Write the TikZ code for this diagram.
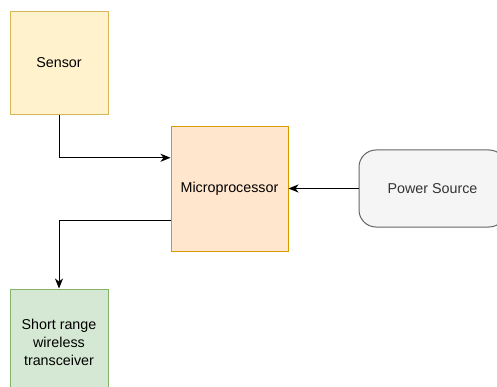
\documentclass[tikz,border=0pt]{standalone}
\usepackage{fontspec}
\setmainfont{Liberation Sans}
\usetikzlibrary{arrows.meta,calc}

\definecolor{sensorfill}{HTML}{FFF2CC}
\definecolor{sensorline}{HTML}{D6B656}
\definecolor{mcufill}{HTML}{FFE6CC}
\definecolor{mculine}{HTML}{D79B00}
\definecolor{powerfill}{HTML}{F5F5F5}
\definecolor{powerline}{HTML}{666666}
\definecolor{powertext}{HTML}{333333}
\definecolor{radiofill}{HTML}{D5E8D4}
\definecolor{radioline}{HTML}{82B366}

\begin{document}
\begin{tikzpicture}[
    x=1pt,y=-1pt,
    font=\fontsize{14.3}{18}\selectfont,
    block/.style={rectangle,draw,line width=1pt,align=center,inner sep=0pt},
    link/.style={>={Stealth[length=10pt,width=8pt,inset=3pt]},->,draw=black,line width=1pt},
]
    \useasboundingbox (0,0) rectangle (497,387);
    \clip (0,0) rectangle (497,387);

    \node[block,fill=sensorfill,draw=sensorline,minimum width=98pt,minimum height=103pt] (sensor) at (59,63) {Sensor};
    \node[block,fill=mcufill,draw=mculine,minimum width=117pt,minimum height=124pt] (mcu) at (229.5,189) {Microprocessor};
    \node[block,fill=powerfill,draw=powerline,text=powertext,rounded corners=17pt,
        minimum width=147pt,minimum height=77pt] (power) at (432.5,188.5) {Power Source};
    \node[block,fill=radiofill,draw=radioline,minimum width=98pt,minimum height=106pt] (radio) at (59,342)
        {Short range\\wireless\\transceiver};

    % ports on the left side of the microprocessor
    \coordinate (mcuin) at ($(mcu.north west)!0.25!(mcu.south west)$);
    \coordinate (mcuout) at ($(mcu.north west)!0.75!(mcu.south west)$);

    \draw[link] (sensor.south) |- (mcuin);
    \draw[link] (power.west) -- (power.west -| mcu.east);
    \draw[link] (mcuout) -| (radio.north);
\end{tikzpicture}
\end{document}
